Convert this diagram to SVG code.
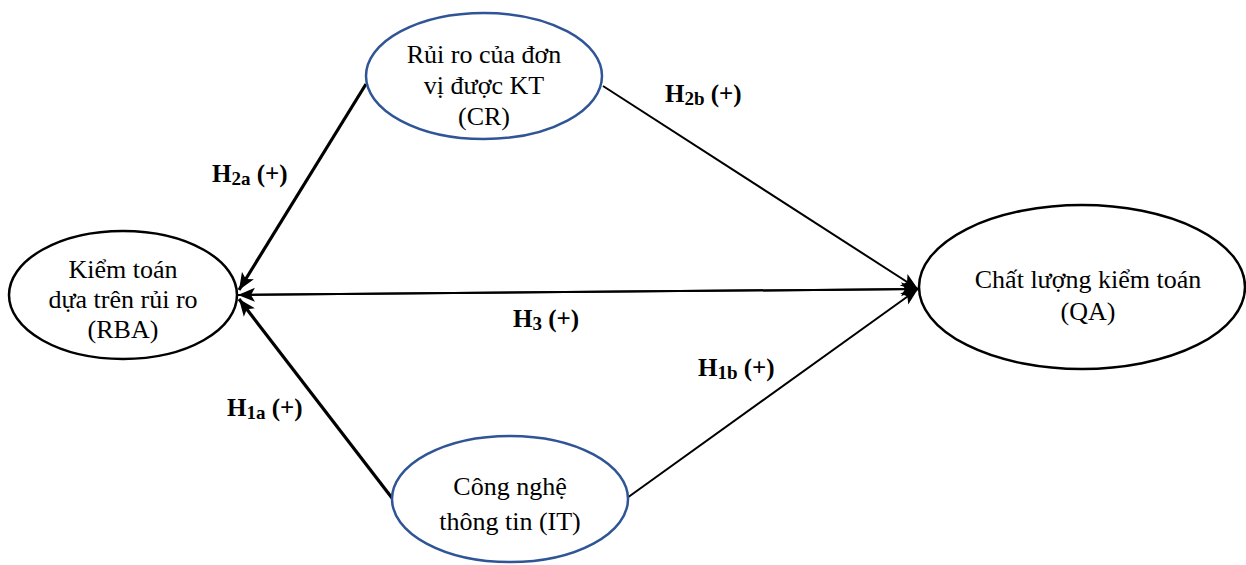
<svg xmlns="http://www.w3.org/2000/svg" width="1246" height="565" viewBox="0 0 1246 565">
<style>
.node-blue{fill:#fff;stroke:#2f5597;stroke-width:2.5}
.node-black{fill:#fff;stroke:#000;stroke-width:2.5}
.nt{font-size:26px;fill:#000;text-anchor:middle}
.lbl{font-size:25px;font-weight:bold;fill:#000}
.sub{font-size:19px}
.thick{stroke:#000;stroke-width:3.2;fill:none}
.thin{stroke:#000;stroke-width:2;fill:none}
</style>
<defs>
<marker id="ah" markerUnits="userSpaceOnUse" markerWidth="20" markerHeight="16" refX="17" refY="8" orient="auto">
<path d="M0,1 L17,8 L0,15 L4,8 Z" fill="#000"/>
</marker>
</defs>
<g id="connectors">
<line class="thick" x1="366" y1="84" x2="239" y2="290" marker-end="url(#ah)"/>
<line class="thick" x1="392" y1="498" x2="239" y2="299" marker-end="url(#ah)"/>
<line class="thin" x1="918" y1="289" x2="238" y2="295" marker-end="url(#ah)"/>
<line class="thin" x1="238" y1="295" x2="918" y2="289" marker-end="url(#ah)"/>
<line class="thin" x1="603" y1="86" x2="918" y2="289" marker-end="url(#ah)"/>
<line class="thin" x1="627" y1="498" x2="918" y2="289" marker-end="url(#ah)"/>
</g>
<g font-family="'Liberation Serif', 'Times New Roman', Times, serif">
<g id="CR">
<ellipse class="node-blue" cx="484" cy="76" rx="118" ry="63"/>
<text class="nt" x="484" y="63">Rủi ro của đơn</text>
<text class="nt" x="484" y="94">vị được KT</text>
<text class="nt" x="484" y="125">(CR)</text>
</g>
<g id="RBA">
<ellipse class="node-black" cx="123" cy="295" rx="114" ry="64"/>
<text class="nt" x="123" y="278">Kiểm toán</text>
<text class="nt" x="123" y="308">dựa trên rủi ro</text>
<text class="nt" x="123" y="338">(RBA)</text>
</g>
<g id="IT">
<ellipse class="node-blue" cx="510" cy="499" rx="118" ry="63"/>
<text class="nt" x="510" y="495">Công nghệ</text>
<text class="nt" x="510" y="530">thông tin (IT)</text>
</g>
<g id="QA">
<ellipse class="node-black" cx="1082" cy="287" rx="163" ry="82"/>
<text class="nt" x="1088" y="288">Chất lượng kiểm toán</text>
<text class="nt" x="1088" y="320">(QA)</text>
</g>
<g id="labels">
<text class="lbl" x="212" y="182">H<tspan class="sub" dy="3">2a</tspan><tspan dy="-3"> (+)</tspan></text>
<text class="lbl" x="665" y="102">H<tspan class="sub" dy="3">2b</tspan><tspan dy="-3"> (+)</tspan></text>
<text class="lbl" x="513" y="327">H<tspan class="sub" dy="3">3</tspan><tspan dy="-3"> (+)</tspan></text>
<text class="lbl" x="698" y="376">H<tspan class="sub" dy="3">1b</tspan><tspan dy="-3"> (+)</tspan></text>
<text class="lbl" x="227" y="416">H<tspan class="sub" dy="3">1a</tspan><tspan dy="-3"> (+)</tspan></text>
</g>
</g>
</svg>
